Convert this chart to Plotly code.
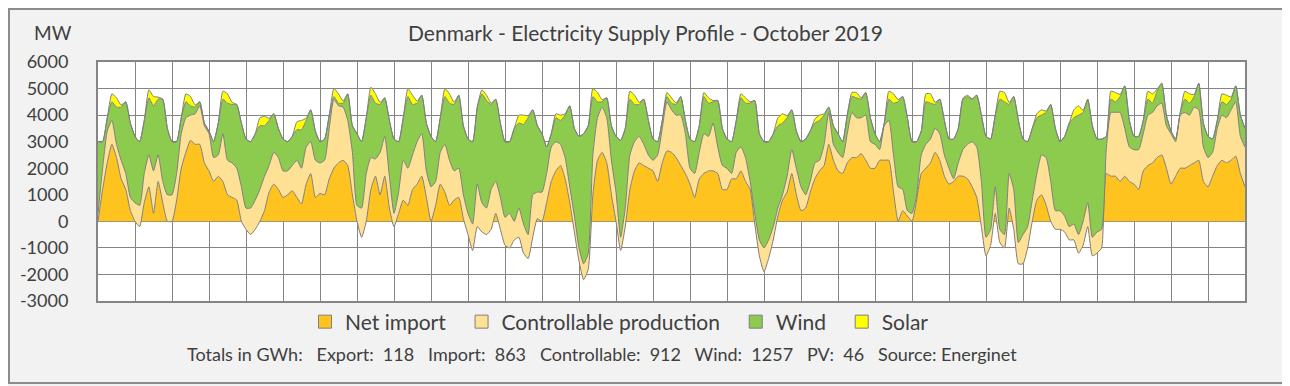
import plotly.graph_objects as go

# 3-hourly samples, 31 days (Oct 2019) + closing point, values in MW
hours = list(range(0, 745, 3))

net_import = [
    0,1200,2200,2900,2400,1600,1200,400,
    0,-200,700,1300,300,1500,700,0,
    0,800,2000,2600,3050,2900,2900,2200,
    1900,1500,1700,1500,1000,900,800,0,
    -300,-500,-300,0,400,1100,1400,1200,
    900,1000,1150,900,650,1400,1800,900,
    1050,1000,1600,2000,2200,2300,2100,1000,
    0,-600,0,1200,1700,1000,1700,500,
    -200,300,800,600,1200,1400,1700,900,
    0,600,1400,1100,600,800,900,100,
    -500,-1100,-200,-400,-500,-300,300,-300,
    -900,-1000,-700,-600,-1200,-1400,-600,100,
    0,700,1500,1900,2100,1600,700,-400,
    -1500,-2200,-1800,1000,2300,2600,2200,1000,
    0,-1100,-200,1200,1900,2200,2100,2000,
    1900,1500,2200,2650,2600,2400,2100,1800,
    1400,900,1600,1800,1900,1900,1800,1200,
    1200,1600,1600,1900,1500,1200,-100,-1300,
    -1900,-1400,-700,200,800,1100,1800,1000,
    400,500,1100,1600,1900,2100,2900,2300,
    1900,1800,2200,2400,2400,2550,2300,2000,
    2000,2300,2300,2300,1100,0,400,200,
    0,800,1800,2000,2200,2600,2300,1700,
    1400,1500,1700,1700,1600,1300,900,-200,
    -1300,-900,300,-800,-1000,500,-300,-1600,
    -1600,-1000,0,800,1000,600,0,-300,
    -300,-400,-700,-700,-1200,-900,-200,-1300,
    -1200,-1000,1800,1700,1700,1500,1700,1500,
    1400,1200,1900,2100,2200,2400,2500,2000,
    1400,1700,2000,2000,2100,2200,2300,1500,
    1300,1700,2100,2300,2200,2300,2450,1800,
    1300,
]

controllable = [
    300,800,1200,900,500,700,600,500,
    700,800,1100,1200,1600,1000,800,1000,
    1000,1000,1300,1300,950,1150,1450,1400,
    1400,900,800,1800,1300,1300,1200,1300,
    800,1000,1100,1200,1300,1000,1200,1200,
    1000,900,950,1400,1350,1400,1200,1400,
    1150,1300,1900,2600,2150,2000,1700,1600,
    600,1100,1800,1200,650,1600,1500,1200,
    500,800,1500,1400,1300,1600,1600,1000,
    1300,900,1200,1800,1700,1100,1100,900,
    800,1000,1600,1100,1000,1500,1200,1200,
    1050,1300,700,1100,1100,900,1600,1000,
    1100,1100,1300,1100,800,800,600,600,
    500,600,600,1500,1600,1700,1700,1300,
    1100,500,700,1300,1100,1000,800,500,
    400,1000,1300,1850,1600,1600,1900,1500,
    600,900,1000,1500,1300,1800,1000,900,
    800,200,1000,900,900,300,400,600,
    900,700,500,300,200,600,900,1000,
    900,500,400,600,400,800,1200,600,
    700,600,1100,1700,1500,1350,1700,1000,
    900,400,1300,1500,1400,1300,800,200,
    300,200,700,900,900,900,1000,800,
    600,100,500,1000,1300,1700,1900,1700,
    700,600,1000,500,500,1300,1500,800,
    1100,800,800,1000,1500,1800,1500,700,
    700,600,500,600,700,900,900,700,
    800,700,900,2400,2400,2600,1800,1300,
    1300,1500,1400,1900,1900,1950,1950,1600,
    1900,1300,2000,2100,1900,2100,1900,1300,
    1100,900,1400,1700,1700,1900,2050,1400,
    1500,
]

wind = [
    2700,1000,500,700,1400,2000,2700,2800,
    2500,2400,2000,2150,2450,2100,3100,2500,
    2000,1200,600,600,350,250,150,100,
    100,600,1200,1300,2150,2200,2400,2400,
    2600,2500,2500,2400,1900,1700,1450,1100,
    1200,1100,1100,1150,1450,1000,1200,1100,
    800,800,500,100,100,150,1000,1000,
    2700,2500,2100,2350,2100,1800,1450,2100,
    2800,1900,1600,2700,1900,1450,1450,1800,
    1900,1500,1300,1800,2150,2500,2750,2600,
    2800,3100,2900,4100,4050,3200,3100,2800,
    2850,2700,3500,3200,3750,4400,3200,2500,
    2200,1000,500,900,900,1600,3050,3300,
    4200,4900,4800,2200,600,200,750,1300,
    2100,3650,3000,2100,1400,1200,1700,1300,
    800,500,300,200,250,400,700,500,
    1100,1200,1000,1400,1250,800,1750,1400,
    1100,1200,1200,1850,2050,2950,4250,4000,
    4000,3700,3500,3100,2700,2200,1500,1400,
    1700,2100,1900,1500,1500,1100,200,700,
    700,600,700,600,750,700,850,900,
    400,300,100,800,1950,3200,3500,3500,
    2700,2000,900,1600,1350,900,1300,1300,
    1100,1500,1300,1900,1800,1600,1950,2500,
    3800,3400,2700,4900,5000,2600,3500,4600,
    3600,3200,2700,2100,1500,1700,2900,3100,
    2600,3000,3900,4000,4500,4100,3900,4200,
    3500,3400,500,500,400,600,1600,1000,
    500,500,500,600,350,550,750,400,
    100,100,100,500,450,400,1000,900,
    800,500,300,500,500,400,600,800,
    700,
]

solar = [
    0,0,0,300,350,80,0,0,
    0,0,0,300,350,80,0,0,
    0,0,0,300,350,80,0,0,
    0,0,0,300,350,80,0,0,
    0,0,0,300,350,80,0,0,
    0,0,0,300,350,80,0,0,
    0,0,0,300,350,80,0,0,
    0,0,0,300,350,80,0,0,
    0,0,0,300,350,80,0,0,
    0,0,0,300,350,80,0,0,
    0,0,0,150,200,50,0,0,
    0,0,0,300,350,80,0,0,
    0,0,0,150,200,50,0,0,
    0,0,0,300,350,80,0,0,
    0,0,0,300,350,80,0,0,
    0,0,0,150,200,50,0,0,
    0,0,0,150,200,50,0,0,
    0,0,0,150,200,50,0,0,
    0,0,0,300,350,80,0,0,
    0,0,0,150,200,50,0,0,
    0,0,0,150,200,50,0,0,
    0,0,0,300,350,80,0,0,
    0,0,0,300,350,80,0,0,
    0,0,0,30,50,10,0,0,
    0,0,0,300,350,80,0,0,
    0,0,0,150,200,50,0,0,
    0,0,0,300,350,80,0,0,
    0,0,0,300,350,80,0,0,
    0,0,0,300,350,80,0,0,
    0,0,0,300,350,80,0,0,
    0,0,0,300,350,80,0,0,
    0,
]

series_names = ["Net import", "Controllable production", "Wind", "Solar"]
series_colors = ["#FFC31F", "#FFE196", "#8CCB4E", "#FFFF00"]
y_ticks = [6000, 5000, 4000, 3000, 2000, 1000, 0, -1000, -2000, -3000]

title_text = "Denmark - Electricity Supply Profile - October 2019"
NB = "\u00a0"
footer_text = ("Totals in GWh:" + NB * 3 + "Export:" + NB * 2 + "118" + NB * 3 + "Import:" + NB * 2 + "863"
               + NB * 3 + "Controllable:" + NB * 2 + "912" + NB * 3 + "Wind:" + NB * 2 + "1257"
               + NB * 3 + "PV:" + NB * 2 + "46" + NB * 3 + "Source: Energinet")

FONT = "Lato"
TXT = "#404040"
GRID = "#858585"

fig = go.Figure()
for name, vals, col in zip(series_names, [net_import, controllable, wind, solar], series_colors):
    fig.add_trace(go.Scatter(
        x=hours, y=vals, name=name, stackgroup="supply", mode="lines",
        line=dict(color="#7F7F7F", width=1, shape="spline", smoothing=0.5),
        fillcolor=col, showlegend=False, hoverinfo="skip"))

# legend entries as square swatches
for name, col in zip(series_names, series_colors):
    fig.add_trace(go.Scatter(
        x=[None], y=[None], mode="markers", name=name + NB * 2,
        marker=dict(symbol="square", size=13, color=col,
                    line=dict(color="#7F7F7F", width=1))))

# the page body adds an 8px offset: figure coords = screen coords - 8
OFF = 8
W, H = 1290 - OFF, 386 - OFF
PL, PR, PT, PB = 98, 1245, 62, 301          # plot area in screen pixels
L, R, T, B = PL - OFF, W - (PR - OFF), PT - OFF, H - (PB - OFF)
pw, ph = PR - PL, PB - PT

def px(xs):
    return (xs - PL) / pw

def py(ys):
    return (PB - ys) / ph

fig.update_layout(
    width=W, height=H,
    margin=dict(l=L, r=R, t=T, b=B, pad=0, autoexpand=False),
    paper_bgcolor="#F2F2F2", plot_bgcolor="white",
    font=dict(family=FONT, color=TXT),
    showlegend=True,
    legend=dict(orientation="h", x=px(305), y=py(322), xanchor="left", yanchor="middle",
                traceorder="normal",
                font=dict(size=21, color=TXT, family=FONT), bgcolor="rgba(0,0,0,0)",
                itemwidth=30, tracegroupgap=0),
    xaxis=dict(range=[0, 744], tick0=0, dtick=24, showticklabels=False, ticks="",
               showgrid=True, gridcolor=GRID, gridwidth=1.3,
               showline=True, mirror=True, linecolor=GRID, linewidth=2, zeroline=False),
    yaxis=dict(range=[-3000, 6000], tickvals=y_ticks, ticktext=[str(v) for v in y_ticks],
               showgrid=True, gridcolor=GRID, gridwidth=1.3,
               zeroline=True, zerolinecolor=GRID, zerolinewidth=2,
               showline=True, mirror=True, linecolor=GRID, linewidth=2,
               ticks="", ticklabelstandoff=24, tickfont=dict(size=18, color=TXT, family=FONT)),
    annotations=[
        dict(text=title_text, x=px(645), y=py(32), xref="paper", yref="paper",
             showarrow=False, xanchor="center", yanchor="middle",
             font=dict(size=21, color=TXT, family=FONT)),
        dict(text="MW", x=px(53), y=py(32), xref="paper", yref="paper",
             showarrow=False, xanchor="center", yanchor="middle",
             font=dict(size=19, color=TXT, family=FONT)),
        dict(text=footer_text, x=px(602), y=py(354), xref="paper", yref="paper",
             showarrow=False, xanchor="center", yanchor="middle",
             font=dict(size=18, color=TXT, family=FONT)),
    ],
    shapes=[
        dict(type="rect", xref="paper", yref="paper", x0=px(9), x1=px(1286), y0=py(383), y1=py(9),
             line=dict(color="#8C8C8C", width=2), fillcolor="rgba(0,0,0,0)", layer="below"),
    ],
)

fig.write_html("out.html")
